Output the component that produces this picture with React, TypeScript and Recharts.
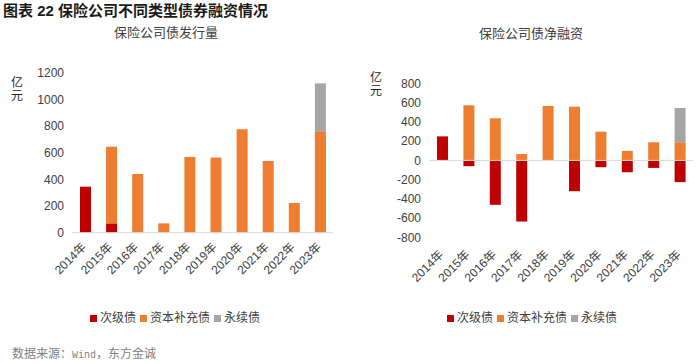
import React from "react";
import { BarChart, Bar, XAxis, YAxis, ReferenceLine } from "recharts";

const years = ["2014年", "2015年", "2016年", "2017年", "2018年", "2019年", "2020年", "2021年", "2022年", "2023年"];

const issueSub = [345, 70, 0, 0, 0, 0, 0, 0, 0, 0];
const issueCap = [0, 575, 440, 70, 568, 563, 775, 538, 223, 760];
const issuePerp = [0, 0, 0, 0, 0, 0, 0, 0, 0, 360];

const netSub = [250, -60, -462, -636, 0, -320, -71, -123, -78, -226];
const netCap = [0, 573, 438, 66, 566, 559, 299, 99, 189, 189];
const netPerp = [0, 0, 0, 0, 0, 0, 0, 0, 0, 356];

const seriesNames = ["次级债", "资本补充债", "永续债"];
const seriesColors = ["#C00000", "#ED7D31", "#A5A5A5"];

const leftTicks = [0, 200, 400, 600, 800, 1000, 1200];
const rightTicks = [-800, -600, -400, -200, 0, 200, 400, 600, 800];

const issueData = years.map((y, i) => ({ year: y, s0: issueSub[i], s1: issueCap[i], s2: issuePerp[i] }));
const netData = years.map((y, i) => ({ year: y, s0: netSub[i], s1: netCap[i], s2: netPerp[i] }));

const FONT = "'Liberation Sans', 'Noto Sans CJK SC', sans-serif";
const TEXT = "#404040";

const makeTick = (extraY: number) => (props: any) => {
  const { x, y, payload } = props;
  return (
    <g transform={`translate(${x - 1},${y + extraY})`}>
      <text
        textAnchor="end"
        transform="rotate(-45)"
        dy="0.35em"
        fontSize={12}
        fontFamily={FONT}
        fill={TEXT}
      >
        {payload.value}
      </text>
    </g>
  );
};

const Legend2 = ({ left, top }: { left: number; top: number }) => (
  <div
    style={{
      position: "absolute",
      left,
      top,
      display: "flex",
      alignItems: "center",
      fontFamily: FONT,
      fontSize: 12,
      color: TEXT,
      whiteSpace: "nowrap",
      lineHeight: "14px",
    }}
  >
    {seriesNames.map((n, i) => (
      <span key={n} style={{ display: "flex", alignItems: "center", marginRight: 4 }}>
        <span style={{ width: 7, height: 7, background: seriesColors[i], display: "inline-block", marginRight: 3 }} />
        {n}
      </span>
    ))}
  </div>
);

const Unit = ({ left, top }: { left: number; top: number }) => (
  <div
    style={{
      position: "absolute",
      left,
      top,
      fontFamily: FONT,
      fontSize: 12,
      color: "#262626",
      width: 14,
      textAlign: "center",
    }}
  >
    <div style={{ lineHeight: "12px", height: 12 }}>亿</div>
    <div style={{ lineHeight: "12px", height: 12, marginTop: 1 }}>元</div>
  </div>
);

export default function App() {
  const tickStyle = { fontSize: 12, fontFamily: FONT, fill: TEXT };
  return (
    <div style={{ position: "absolute", left: 0, top: 0, width: 700, height: 363, background: "#fff", overflow: "hidden" }}>
      <div
        style={{
          position: "absolute",
          left: 3,
          top: 2,
          fontFamily: FONT,
          fontSize: 15,
          fontWeight: "bold",
          color: "#1a1a1a",
          whiteSpace: "nowrap",
          lineHeight: "18px",
        }}
      >
        图表 22 保险公司不同类型债券融资情况
      </div>
      <div
        style={{
          position: "absolute",
          left: 66,
          width: 200,
          textAlign: "center",
          top: 25,
          fontFamily: FONT,
          fontSize: 13,
          color: TEXT,
          lineHeight: "16px",
        }}
      >
        保险公司债发行量
      </div>
      <div
        style={{
          position: "absolute",
          left: 431,
          width: 200,
          textAlign: "center",
          top: 26,
          fontFamily: FONT,
          fontSize: 13,
          color: TEXT,
          lineHeight: "16px",
        }}
      >
        保险公司债净融资
      </div>
      <Unit left={10} top={77} />
      <Unit left={369} top={72} />

      <div style={{ position: "absolute", left: 0, top: 0 }}>
        <BarChart
          width={345}
          height={363}
          data={issueData}
          margin={{ top: 72.7, right: 12, bottom: 70.3, left: 0 }}
        >
          <XAxis
            dataKey="year"
            height={60}
            interval={0}
            axisLine={{ stroke: "#D9D9D9" }}
            tickLine={false}
            tick={makeTick(4)}
          />
          <YAxis
            width={72}
            domain={[0, 1200]}
            ticks={leftTicks}
            axisLine={false}
            tickLine={false}
            tick={tickStyle}
            interval={0}
          />
          {seriesNames.map((n, i) => (
            <Bar
              key={n}
              dataKey={`s${i}`}
              name={n}
              stackId="a"
              fill={seriesColors[i]}
              barSize={11}
              isAnimationActive={false}
            />
          ))}
        </BarChart>
      </div>

      <div style={{ position: "absolute", left: 350, top: 0 }}>
        <BarChart
          width={350}
          height={363}
          data={netData}
          stackOffset="sign"
          margin={{ top: 83.5, right: 7, bottom: 65.7, left: 0 }}
        >
          <XAxis
            dataKey="year"
            height={60}
            interval={0}
            axisLine={false}
            tickLine={false}
            tick={makeTick(7)}
          />
          <YAxis
            width={79}
            domain={[-800, 800]}
            ticks={rightTicks}
            axisLine={false}
            tickLine={false}
            tick={tickStyle}
            interval={0}
          />
          <ReferenceLine y={0} stroke="#D9D9D9" />
          {seriesNames.map((n, i) => (
            <Bar
              key={n}
              dataKey={`s${i}`}
              name={n}
              stackId="a"
              fill={seriesColors[i]}
              barSize={11}
              isAnimationActive={false}
            />
          ))}
        </BarChart>
      </div>

      <Legend2 left={90} top={311} />
      <Legend2 left={447} top={311} />

      <div
        style={{
          position: "absolute",
          left: 12,
          top: 345,
          fontFamily: "'Noto Sans CJK SC', sans-serif",
          fontSize: 12,
          color: "#7F7F7F",
          whiteSpace: "nowrap",
          lineHeight: "16px",
        }}
      >
        数据来源：<span style={{ fontFamily: "'Liberation Mono', monospace", fontSize: 10 }}>Wind</span>，东方金诚
      </div>
    </div>
  );
}
